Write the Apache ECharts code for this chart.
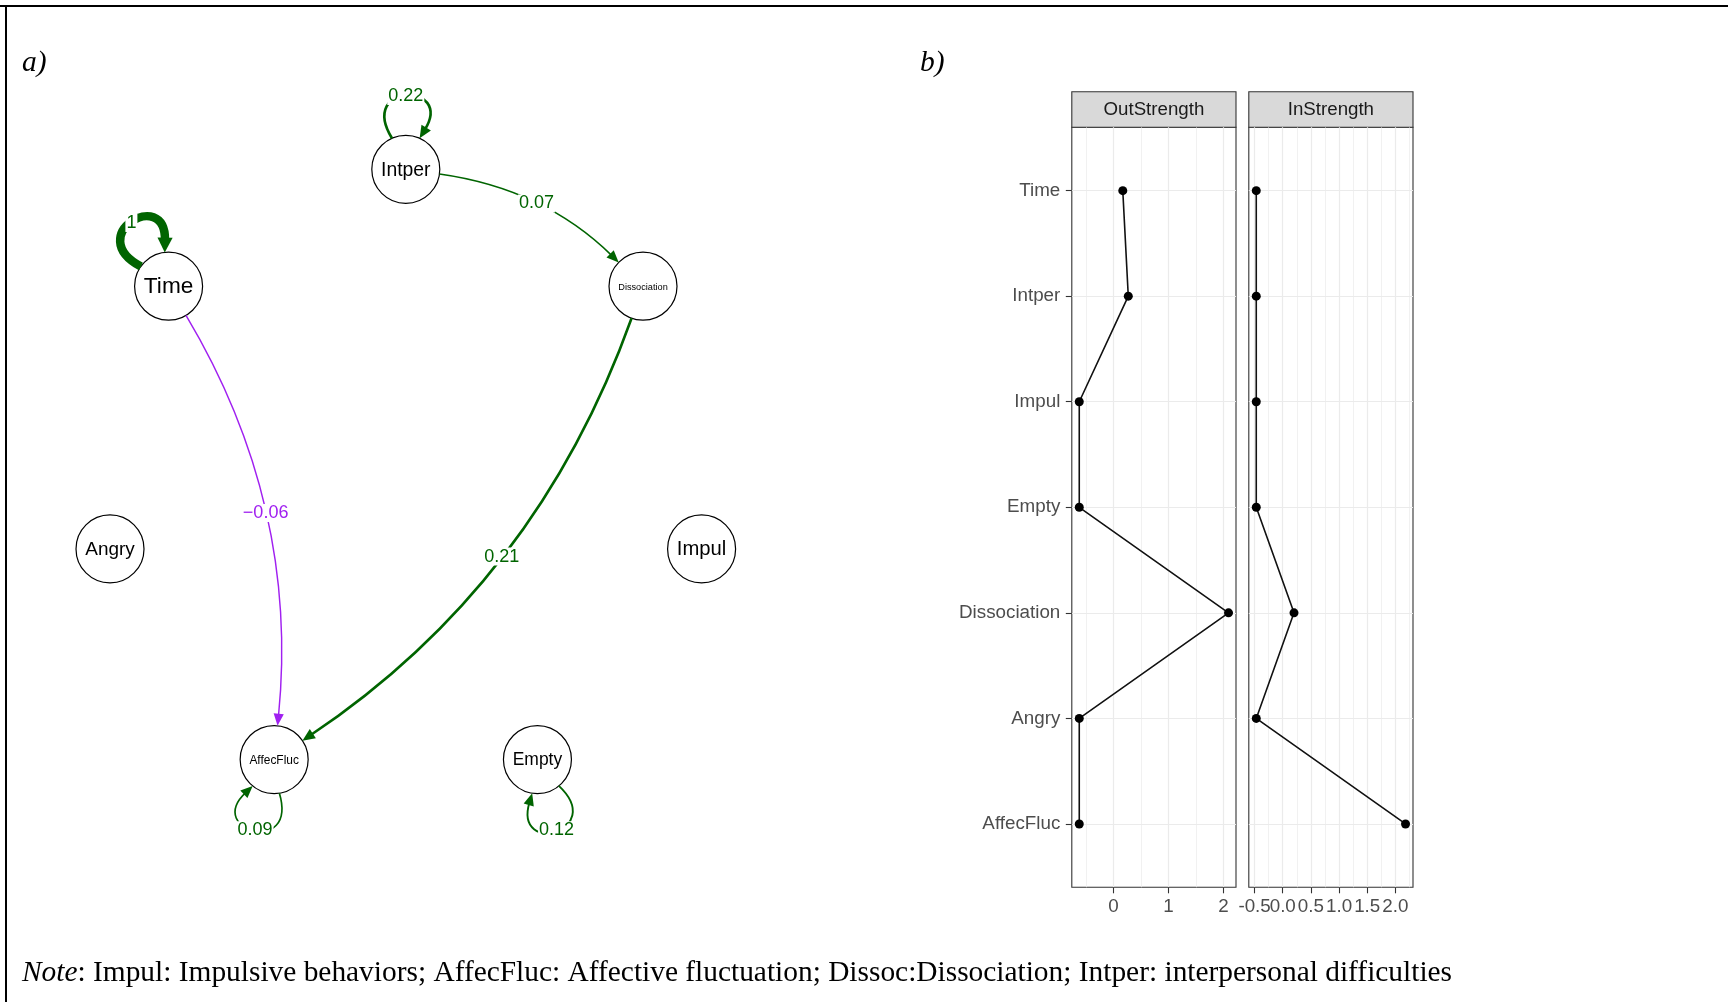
<!DOCTYPE html>
<html>
<head>
<meta charset="utf-8">
<title>Network and centrality</title>
<script src="https://cdn.jsdelivr.net/npm/echarts@6/dist/echarts.min.js"></script>
<style>
  html, body { margin: 0; padding: 0; background: #fff; }
  #main { width: 1728px; height: 1002px; }
</style>
</head>
<body>
<div id="main"></div>
<script>
// Variables, in the order used by the centrality panels (top to bottom)
const nodeNames = ['Time', 'Intper', 'Impul', 'Empty', 'Dissociation', 'Angry', 'AffecFluc'];
// Clockwise order of the nodes around the circular layout, starting at the top
const ringOrder = ['Intper', 'Dissociation', 'Impul', 'Empty', 'AffecFluc', 'Angry', 'Time'];
// Directed edges: source -> target with weight
const edgeFrom = ['Time', 'Intper', 'Intper', 'Time', 'Dissociation', 'AffecFluc', 'Empty'];
const edgeTo = ['Time', 'Intper', 'Dissociation', 'AffecFluc', 'AffecFluc', 'AffecFluc', 'Empty'];
const edgeWeight = [1, 0.22, 0.07, -0.06, 0.21, 0.09, 0.12];
// Standardized strength centrality
const outStrength = [0.17, 0.27, -0.62, -0.62, 2.09, -0.62, -0.62];
const inStrength = [-0.47, -0.47, -0.47, -0.47, 0.20, -0.47, 2.18];
const outTicks = [0, 1, 2];
const inTicks = [-0.5, 0, 0.5, 1, 1.5, 2];
const panelTitles = ['OutStrength', 'InStrength'];
const panelLetters = ['a)', 'b)'];
const noteLead = 'Note';
const noteBody = ': Impul: Impulsive behaviors; AffecFluc: Affective fluctuation; Dissoc:Dissociation; Intper: interpersonal difficulties';

// ---- styling constants ----
const SANS = '"Liberation Sans", Arial, Helvetica, sans-serif';
const SERIF = '"Liberation Serif", "Times New Roman", serif';
const POS_COL = '#006400';
const NEG_COL = '#A020F0';
const NODE_R = 34;           // node radius in px
const LABEL_W = 49.5;        // node labels are scaled to this width
const CURVE = 0.165;         // bend of the curved edges (fraction of chord length)
const LOOP_SPREAD = 24 * Math.PI / 180;
const LOOP_CTRL = 100;
const LOOP_CTRL_ANGLE = 29 * Math.PI / 180;
const LOOP_LEAN = 0.6;
const GRID_COL = '#ebebeb';
const AXIS_TXT = '#4d4d4d';
const FRAME_COL = '#333333';
const AXIS_FONT = 18.8;

// Circular layout: unit-circle positions, clockwise from the top
const nodePos = {};
ringOrder.forEach(function (n, k) {
  const t = 2 * Math.PI * k / ringOrder.length;
  nodePos[n] = [Math.sin(t), Math.cos(t)];
});

// Font size that makes a node label a fixed width
const measureCtx = document.createElement('canvas').getContext('2d');
function fitFont(text) {
  measureCtx.font = '100px ' + SANS;
  return 100 * LABEL_W / measureCtx.measureText(text).width;
}

function fmtWeight(w) {
  const a = Math.abs(w);
  const s = a === 1 ? '1' : a.toFixed(2);
  return (w < 0 ? '\u2212' : '') + s;
}

function paddedRange(vals) {
  const lo = Math.min.apply(null, vals), hi = Math.max.apply(null, vals);
  const pad = 0.05 * (hi - lo);
  return [lo - pad, hi + pad];
}
const outRange = paddedRange(outStrength);
const inRange = paddedRange(inStrength);
const rowIdx = nodeNames.map(function (_, i) { return i; });

function unit(v) { const l = Math.hypot(v[0], v[1]) || 1; return [v[0] / l, v[1] / l]; }
function polar(c, r, a) { return [c[0] + r * Math.cos(a), c[1] + r * Math.sin(a)]; }

// ---- network edges ----
function renderEdge(params, api) {
  const from = nodeNames[api.value(0)];
  const to = nodeNames[api.value(1)];
  const w = api.value(2);
  const A = api.coord(nodePos[from]);
  const B = api.coord(nodePos[to]);
  const O = api.coord([0, 0]);
  const color = w >= 0 ? POS_COL : NEG_COL;
  const lw = 1 + 7.5 * Math.abs(w);
  const aLen = 11.5 + 0.4 * lw;
  const aHalf = 4.6 + 0.35 * lw;
  const children = [];
  let tip, dir, labelPt;

  if (from === to) {
    // self-loop pointing away from the layout centre
    const out = Math.atan2(A[1] - O[1], A[0] - O[0]);
    const vert = A[1] < O[1] ? -Math.PI / 2 : Math.PI / 2;
    let d = out - vert;
    while (d > Math.PI) d -= 2 * Math.PI;
    while (d < -Math.PI) d += 2 * Math.PI;
    const phi = vert + LOOP_LEAN * d;
    const P0 = polar(A, NODE_R, phi - LOOP_SPREAD);
    tip = polar(A, NODE_R, phi + LOOP_SPREAD);
    const P1 = polar(A, LOOP_CTRL, phi - LOOP_CTRL_ANGLE);
    const P2 = polar(A, LOOP_CTRL, phi + LOOP_CTRL_ANGLE);
    dir = unit([tip[0] - P2[0], tip[1] - P2[1]]);
    const P3 = [tip[0] - dir[0] * aLen * 0.8, tip[1] - dir[1] * aLen * 0.8];
    children.push({
      type: 'bezierCurve',
      shape: { x1: P0[0], y1: P0[1], x2: P3[0], y2: P3[1], cpx1: P1[0], cpy1: P1[1], cpx2: P2[0], cpy2: P2[1] },
      style: { stroke: color, lineWidth: lw, fill: null, lineCap: 'butt' }
    });
    labelPt = [
      0.125 * P0[0] + 0.375 * P1[0] + 0.375 * P2[0] + 0.125 * tip[0],
      0.125 * P0[1] + 0.375 * P1[1] + 0.375 * P2[1] + 0.125 * tip[1]
    ];
  } else {
    // curved edge bending to the left of the direction of travel
    const dx = B[0] - A[0], dy = B[1] - A[1];
    const L = Math.hypot(dx, dy);
    const perp = [dy / L, -dx / L];
    const C = [(A[0] + B[0]) / 2 + perp[0] * CURVE * L, (A[1] + B[1]) / 2 + perp[1] * CURVE * L];
    const uA = unit([C[0] - A[0], C[1] - A[1]]);
    const uB = unit([C[0] - B[0], C[1] - B[1]]);
    const S = [A[0] + uA[0] * NODE_R, A[1] + uA[1] * NODE_R];
    tip = [B[0] + uB[0] * NODE_R, B[1] + uB[1] * NODE_R];
    dir = unit([tip[0] - C[0], tip[1] - C[1]]);
    const E = [tip[0] - dir[0] * aLen * 0.8, tip[1] - dir[1] * aLen * 0.8];
    children.push({
      type: 'bezierCurve',
      shape: { x1: S[0], y1: S[1], x2: E[0], y2: E[1], cpx1: C[0], cpy1: C[1] },
      style: { stroke: color, lineWidth: lw, fill: null, lineCap: 'butt' }
    });
    labelPt = [0.25 * S[0] + 0.5 * C[0] + 0.25 * tip[0], 0.25 * S[1] + 0.5 * C[1] + 0.25 * tip[1]];
  }

  // arrow head
  const base = [tip[0] - dir[0] * aLen, tip[1] - dir[1] * aLen];
  const n = [-dir[1], dir[0]];
  children.push({
    type: 'polygon',
    shape: { points: [tip, [base[0] + n[0] * aHalf, base[1] + n[1] * aHalf], [base[0] - n[0] * aHalf, base[1] - n[1] * aHalf]] },
    style: { fill: color, stroke: null }
  });
  // weight label
  children.push({
    type: 'text',
    x: labelPt[0], y: labelPt[1],
    style: {
      text: fmtWeight(w), fill: color, font: '18px ' + SANS,
      align: 'center', verticalAlign: 'middle', backgroundColor: '#fff', padding: [0, 1]
    },
    z2: 10
  });
  return { type: 'group', children: children };
}

// ---- network nodes ----
function renderNode(params, api) {
  const p = api.coord([api.value(0), api.value(1)]);
  const name = nodeNames[api.value(2)];
  return {
    type: 'group',
    children: [
      { type: 'circle', shape: { cx: p[0], cy: p[1], r: NODE_R }, style: { fill: '#fff', stroke: '#000', lineWidth: 1.2 } },
      {
        type: 'text', x: p[0], y: p[1] + 1,
        style: { text: name, font: fitFont(name).toFixed(2) + 'px ' + SANS, fill: '#000', align: 'center', verticalAlign: 'middle' }
      }
    ]
  };
}

const edgeData = edgeWeight.map(function (w, i) {
  return [nodeNames.indexOf(edgeFrom[i]), nodeNames.indexOf(edgeTo[i]), w];
});
const nodeData = nodeNames.map(function (n, i) { return [nodePos[n][0], nodePos[n][1], i]; });

// ---- strength panels ----
const panelTop = 127.3, panelH = 760, panelW = 164.2;
const panelLeft = [1071.8, 1248.8];
const stripTop = 91.7;

function xAxisFor(grid, range, ticks, step, fmt) {
  // blank labels at both ends of the range keep every tick label visible
  const labelValues = [range[0]].concat(ticks, [range[1]]);
  return {
    type: 'value', gridIndex: grid, position: 'bottom', min: range[0], max: range[1],
    minInterval: step, maxInterval: step,
    axisLine: { show: false, onZero: false },
    axisTick: { show: true, length: 6, lineStyle: { color: FRAME_COL, width: 1.1 }, customValues: ticks },
    axisLabel: {
      customValues: labelValues, color: AXIS_TXT, fontSize: AXIS_FONT, fontFamily: SANS, margin: 10,
      formatter: function (v) { return ticks.indexOf(v) >= 0 ? fmt(v) : ''; },
      showMinLabel: false, showMaxLabel: false, hideOverlap: false
    },
    splitLine: { show: true, lineStyle: { color: GRID_COL, width: 1.2 } },
    minorTick: { show: false, splitNumber: 2 },
    minorSplitLine: { show: true, lineStyle: { color: GRID_COL, width: 0.7 } }
  };
}
function yAxisFor(grid, withLabels) {
  return {
    type: 'value', gridIndex: grid, position: 'left', inverse: true,
    min: -0.6, max: nodeNames.length - 1 + 0.6,
    minInterval: 1, maxInterval: 1,
    axisLine: { show: false, onZero: false },
    axisTick: { show: withLabels, length: 6, lineStyle: { color: FRAME_COL, width: 1.1 }, customValues: rowIdx },
    axisLabel: {
      show: withLabels, customValues: rowIdx, color: AXIS_TXT, fontSize: AXIS_FONT, fontFamily: SANS, margin: 11.5,
      formatter: function (v) { return Number.isInteger(v) ? nodeNames[v] : ''; },
      showMinLabel: true, showMaxLabel: true
    },
    splitLine: { show: true, lineStyle: { color: GRID_COL, width: 1.2 } }
  };
}
function strengthSeries(vals, axis) {
  return {
    type: 'line', xAxisIndex: axis, yAxisIndex: axis,
    data: vals.map(function (v, i) { return [v, i]; }),
    symbol: 'circle', symbolSize: 9, showSymbol: true,
    itemStyle: { color: '#000' },
    lineStyle: { color: '#111', width: 1.6 },
    z: 5, silent: true
  };
}

const graphics = [
  // figure frame
  { type: 'line', shape: { x1: 0, y1: 6, x2: 1728, y2: 6 }, style: { stroke: '#000', lineWidth: 2 } },
  { type: 'line', shape: { x1: 6, y1: 5, x2: 6, y2: 1002 }, style: { stroke: '#000', lineWidth: 2 } },
  // panel letters
  { type: 'text', x: 22, y: 63, style: { text: panelLetters[0], font: 'italic 29.5px ' + SERIF, fill: '#000', verticalAlign: 'middle' } },
  { type: 'text', x: 920, y: 63, style: { text: panelLetters[1], font: 'italic 29.5px ' + SERIF, fill: '#000', verticalAlign: 'middle' } },
  // note under the figure
  {
    type: 'text', x: 22, y: 973,
    style: {
      text: '{i|' + noteLead + '}{r|' + noteBody + '}', verticalAlign: 'middle',
      rich: {
        i: { fontFamily: SERIF, fontStyle: 'italic', fontSize: 29.4, fill: '#000' },
        r: { fontFamily: SERIF, fontSize: 29.4, fill: '#000' }
      }
    }
  }
];
// facet strips
panelTitles.forEach(function (t, k) {
  graphics.push({
    type: 'rect', shape: { x: panelLeft[k], y: stripTop, width: panelW, height: panelTop - stripTop },
    style: { fill: '#d9d9d9', stroke: FRAME_COL, lineWidth: 1.1 }
  });
  graphics.push({
    type: 'text', x: panelLeft[k] + panelW / 2, y: (stripTop + panelTop) / 2 + 0.5,
    style: { text: t, font: '18.7px ' + SANS, fill: '#1a1a1a', align: 'center', verticalAlign: 'middle' }
  });
});

const option = {
  animation: false,
  backgroundColor: '#fff',
  textStyle: { fontFamily: SANS },
  graphic: graphics,
  grid: [
    { left: 102.4, top: 169.3, width: 606.8, height: 621, show: false, outerBoundsMode: 'none' },
    { left: panelLeft[0], top: panelTop, width: panelW, height: panelH, show: true, borderColor: FRAME_COL, borderWidth: 1.1, backgroundColor: '#fff', outerBoundsMode: 'none' },
    { left: panelLeft[1], top: panelTop, width: panelW, height: panelH, show: true, borderColor: FRAME_COL, borderWidth: 1.1, backgroundColor: '#fff', outerBoundsMode: 'none' }
  ],
  xAxis: [
    { type: 'value', gridIndex: 0, min: -1, max: 1, show: false },
    xAxisFor(1, outRange, outTicks, 1, function (v) { return String(v); }),
    xAxisFor(2, inRange, inTicks, 0.5, function (v) { return v.toFixed(1); })
  ],
  yAxis: [
    { type: 'value', gridIndex: 0, min: -1, max: 1, show: false },
    yAxisFor(1, true),
    yAxisFor(2, false)
  ],
  series: [
    {
      type: 'custom', name: 'nodes', xAxisIndex: 0, yAxisIndex: 0, z: 2, silent: true,
      renderItem: renderNode, data: nodeData
    },
    {
      type: 'custom', name: 'edges', xAxisIndex: 0, yAxisIndex: 0, z: 3, silent: true,
      renderItem: renderEdge, data: edgeData, encode: { x: [], y: [] }
    },
    strengthSeries(outStrength, 1),
    strengthSeries(inStrength, 2)
  ]
};

const chart = echarts.init(document.getElementById('main'), null, { renderer: 'canvas', width: 1728, height: 1002 });
chart.setOption(option);
</script>
</body>
</html>
